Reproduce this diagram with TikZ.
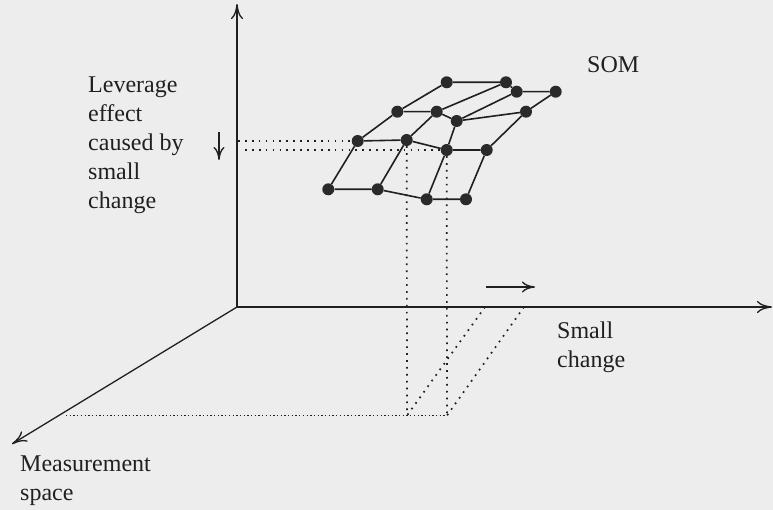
\documentclass[tikz,border=0pt]{standalone}
\usepackage{fontspec}
\setmainfont{Liberation Serif}
\usetikzlibrary{arrows.meta}
\definecolor{bgcol}{HTML}{EDEDED}
\definecolor{inkcol}{HTML}{202020}
\definecolor{nodecol}{HTML}{2A2A2A}
\begin{document}
\begin{tikzpicture}[x=1pt,y=-1pt,
  somnode/.style={circle, fill=nodecol, inner sep=0pt, minimum size=12pt},
  gridline/.style={line width=1.6pt, draw=inkcol},
  axisline/.style={line width=1.3pt, draw=inkcol, -{To[length=15pt,width=12pt]}},
  smallarrow/.style={line width=1.3pt, draw=inkcol, -{To[length=13pt,width=11pt]}},
  dotline/.style={line width=1.7pt, draw=inkcol, dash pattern=on 1.7pt off 5.2pt},
  finedots/.style={line width=1.3pt, draw=inkcol, dash pattern=on 1.3pt off 2.4pt},
  lbl/.style={anchor=north west, inner sep=0pt, align=left, text=inkcol,
    font=\fontsize{24}{29}\selectfont}]
\useasboundingbox[fill=bgcol] (0,0) rectangle (773,510);

% axes
\coordinate (O) at (237,307);
\coordinate (ytop) at (237,4);
\coordinate (xend) at (772,307);
\coordinate (zend) at (12,444);
\draw[axisline] (O) -- (ytop);
\draw[axisline] (O) -- (xend);
\draw[axisline] (O) -- (zend);

% SOM nodes
\node[somnode] (n1)  at (446.7,82.3) {};
\node[somnode] (n2)  at (506,82.3) {};
\node[somnode] (n3)  at (516.7,91.7) {};
\node[somnode] (n4)  at (555.7,91.7) {};
\node[somnode] (n5)  at (397.3,111.7) {};
\node[somnode] (n6)  at (436.7,111.7) {};
\node[somnode] (n7)  at (456.7,121) {};
\node[somnode] (n8)  at (526,111.7) {};
\node[somnode] (n9)  at (357.7,141) {};
\node[somnode] (n10) at (406.7,140) {};
\node[somnode] (n11) at (446.7,150) {};
\node[somnode] (n12) at (486.7,150) {};
\node[somnode] (n13) at (328.3,189.3) {};
\node[somnode] (n14) at (377.7,189.3) {};
\node[somnode] (n15) at (426.7,199.3) {};
\node[somnode] (n16) at (466,199.3) {};

% grid rows
\draw[gridline] (n1) -- (n2) -- (n3) -- (n4);
\draw[gridline] (n5) -- (n6) -- (n7) -- (n8);
\draw[gridline] (n9) -- (n10) -- (n11) -- (n12);
\draw[gridline] (n13) -- (n14) -- (n15) -- (n16);
% grid columns
\draw[gridline] (n13) -- (n9) -- (n5) -- (n1);
\draw[gridline] (n14) -- (n10) -- (n6) -- (n2);
\draw[gridline] (n15) -- (n11) -- (n7) -- (n3);
\draw[gridline] (n16) -- (n12) -- (n8) -- (n4);

% dotted projections
\coordinate (h1) at (238,141);
\coordinate (h2) at (245,150);
\coordinate (b1) at (407,415.5);
\coordinate (b2) at (447,415.5);
\coordinate (bl) at (66,415.5);
\coordinate (d1) at (485,307);
\coordinate (d2) at (524,307);
\draw[dotline] (h1) -- (n9);
\draw[dotline] (h2) -- (n11);
\draw[dotline] (n10) -- (b1);
\draw[dotline] (n11) -- (b2);
\draw[dotline] (d1) -- (b1);
\draw[dotline] (d2) -- (b2);
\draw[finedots] (bl) -- (b2);

% small arrows
\coordinate (va) at (219,132);
\coordinate (vb) at (219,160);
\draw[smallarrow] (va) -- (vb);
\coordinate (ra) at (486,287);
\coordinate (rb) at (535,287);
\draw[smallarrow] (ra) -- (rb);

% labels
\node[lbl] (lev) at (88,77) {Leverage\\effect\\caused by\\small\\change};
\node[lbl] (som) at (587,56.7) {SOM};
\node[lbl] (sc) at (557,321.7) {Small\\change};
\node[lbl] (ms) at (20,456) {Measurement\\space};
\end{tikzpicture}
\end{document}
